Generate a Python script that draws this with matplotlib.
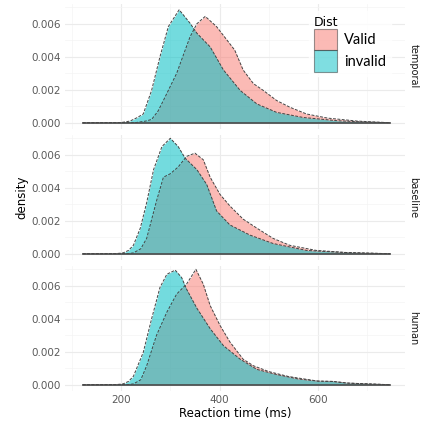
import numpy as np
import matplotlib
matplotlib.use('Agg')
import matplotlib.pyplot as plt
from matplotlib.patches import Patch

# values (density by reaction time, ms)
panels = ['temporal', 'baseline', 'human']

top_inv_rt = [122, 200, 218, 232, 245, 262, 279, 296, 318, 340, 354, 381, 408, 442, 476, 516, 570, 640, 700, 747]
top_inv_d = [0, 0.00001, 0.0001, 0.0003, 0.00053, 0.00196, 0.0040, 0.00583, 0.00685, 0.00604, 0.00543,
             0.0046, 0.0032, 0.00196, 0.00114, 0.00063, 0.00032, 0.00012, 0.00004, 0]
top_val_rt = [122, 230, 250, 262, 275, 286, 313, 340, 354, 371, 394, 415, 431, 448, 469, 489, 516, 543, 577, 620, 680, 747]
top_val_d = [0, 0.00001, 0.0001, 0.0002, 0.0007, 0.00135, 0.003, 0.0052, 0.0060, 0.00645, 0.00583, 0.00502,
             0.0044, 0.0032, 0.00237, 0.00196, 0.00135, 0.00094, 0.00053, 0.00028, 0.0001, 0]

mid_inv_rt = [122, 190, 204, 215, 225, 239, 252, 266, 283, 300, 316, 330, 354, 374, 394, 421, 462, 509, 577, 650, 747]
mid_inv_d = [0, 0.00001, 0.00005, 0.0002, 0.00051, 0.00155, 0.0031, 0.0051, 0.0065, 0.0070, 0.0065, 0.0058,
             0.0051, 0.0042, 0.0026, 0.00175, 0.00113, 0.00062, 0.0002, 0.00008, 0]
mid_val_rt = [122, 215, 225, 240, 252, 272, 286, 300, 316, 333, 350, 367, 381, 401, 421, 448, 476, 509, 543, 597, 660, 747]
mid_val_d = [0, 0.00001, 0.00005, 0.0003, 0.00093, 0.0032, 0.00464, 0.00485, 0.00526, 0.0059, 0.0061, 0.0057,
             0.00464, 0.0036, 0.0029, 0.0021, 0.00155, 0.00093, 0.00051, 0.0002, 0.00007, 0]

bot_inv_rt = [122, 190, 204, 215, 225, 245, 262, 279, 293, 310, 323, 333, 354, 381, 408, 442, 476, 516, 560, 600, 630, 660, 747]
bot_inv_d = [0, 0.00001, 0.00005, 0.0002, 0.00051, 0.00196, 0.0040, 0.0059, 0.0067, 0.00695, 0.0065, 0.0058,
             0.00464, 0.0034, 0.00237, 0.00155, 0.00093, 0.00062, 0.00035, 0.00022, 0.0002, 0.0001, 0]
bot_val_rt = [122, 215, 225, 240, 252, 272, 293, 313, 333, 352, 367, 381, 401, 421, 448, 469, 500, 540, 600, 630, 660, 747]
bot_val_d = [0, 0.00001, 0.00005, 0.0003, 0.00115, 0.003, 0.0044, 0.0055, 0.0061, 0.0070, 0.0061, 0.0048,
             0.0036, 0.0026, 0.00155, 0.00115, 0.0008, 0.0005, 0.00022, 0.0002, 0.0001, 0]

data = [(top_val_rt, top_val_d, top_inv_rt, top_inv_d),
        (mid_val_rt, mid_val_d, mid_inv_rt, mid_inv_d),
        (bot_val_rt, bot_val_d, bot_inv_rt, bot_inv_d)]

yticks = [0, 0.002, 0.004, 0.006]
xticks = [200, 400, 600]

valid_col = '#F8766D'
invalid_col = '#00BFC4'

W, H = 422, 425
fig = plt.figure(figsize=(W / 100, H / 100), dpi=100)

# panel boxes in pixels: (top, bottom)
boxes = [(4, 129), (135, 260), (266, 391)]
for i, (top, bot) in enumerate(boxes):
    ax = fig.add_axes([65 / W, 1 - bot / H, 340 / W, (bot - top) / H])
    vrt, vd, irt, idd = data[i]
    ax.fill_between(vrt, vd, color=valid_col, alpha=0.5, lw=0)
    ax.plot(vrt, vd, color='#444444', lw=0.7, ls=(0, (3, 1.5)))
    ax.fill_between(irt, idd, color=invalid_col, alpha=0.55, lw=0)
    ax.plot(irt, idd, color='#444444', lw=0.7, ls=(0, (3, 1.5)))
    # flat part of the outline along zero
    ax.plot([min(vrt[0], irt[0]), max(vrt[-1], irt[-1])], [0, 0], color='#4A4A4A', lw=1.2)
    ax.set_xlim(86, 777)
    ax.set_ylim(-0.00038, 0.0072)
    ax.set_yticks(yticks)
    ax.set_yticklabels(['%.3f' % v for v in yticks])
    ax.set_yticks([0.001, 0.003, 0.005, 0.007], minor=True)
    ax.set_xticks(xticks)
    ax.set_xticks([100, 300, 500, 700], minor=True)
    if i == 2:
        ax.set_xticklabels([str(v) for v in xticks])
    else:
        ax.set_xticklabels([])
    ax.grid(True, which='major', color='#EBEBEB', lw=0.8)
    ax.grid(True, which='minor', color='#F4F4F4', lw=0.5)
    ax.set_axisbelow(True)
    for s in ax.spines.values():
        s.set_visible(False)
    ax.tick_params(which='both', length=0, labelsize=7.5, labelcolor='#5A5A5A', pad=3)
    ax.text(1.025, 0.5, panels[i], transform=ax.transAxes, rotation=-90,
            ha='center', va='center', fontsize=7, color='#1A1A1A')

fig.text(22 / W, 1 - 197 / H, 'density', rotation=90, ha='center', va='center', fontsize=8.5)
fig.text(235 / W, 1 - 414 / H, 'Reaction time (ms)', ha='center', va='center', fontsize=8.5)

handles = [Patch(facecolor=valid_col, alpha=0.5, edgecolor='#333333', lw=0.8),
           Patch(facecolor=invalid_col, alpha=0.5, edgecolor='#333333', lw=0.8)]
leg = fig.legend(handles, ['Valid', 'invalid'], title='Dist', loc='upper left',
                 bbox_to_anchor=(302 / W, 1 - 4 / H), frameon=True,
                 title_fontsize=9, handlelength=1.6, handleheight=1.9, handletextpad=0.5,
                 labelspacing=0.0, borderpad=0.3, prop={'family': 'Lato', 'size': 10.5})
leg.get_frame().set_facecolor('white')
leg.get_frame().set_edgecolor('white')
leg._legend_box.align = 'left'

fig.savefig('out.png', dpi=100)
